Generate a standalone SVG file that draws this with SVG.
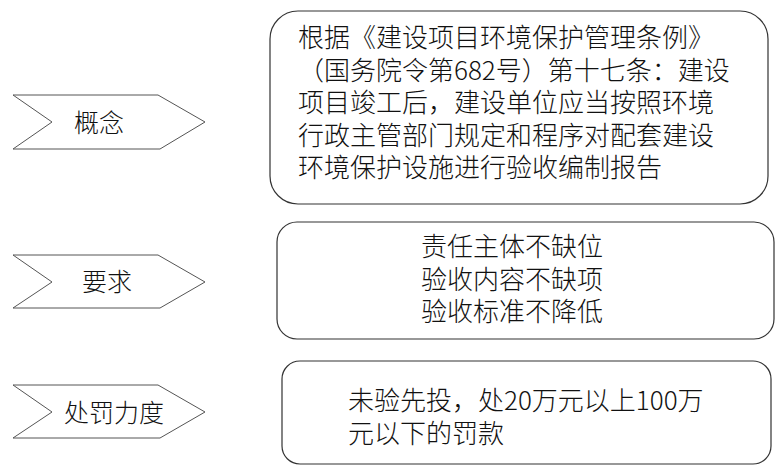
<svg xmlns="http://www.w3.org/2000/svg" width="781" height="476" viewBox="0 0 781 476">
<style>
.bg{fill:#ffffff}
.chev{fill:#ffffff;stroke:#555555;stroke-width:1}
.box{fill:#ffffff;stroke:#333333;stroke-width:1.2}
text{font-family:"Noto Sans CJK SC","Noto Sans",sans-serif;fill:#111111;font-weight:300}
.lbl{font-size:25px;text-anchor:middle}
.body{font-size:26px}
.mid{text-anchor:middle}
</style>
<rect class="bg" x="0" y="0" width="781" height="476"/>
<g id="connectors"></g>
<g id="node-concept-tag">
<polygon class="chev" points="13,95 158,95 205,122 160,149 13,149 52,122"/>
<text class="lbl" x="99" y="132">概念</text>
</g>
<g id="node-concept-box">
<rect class="box" x="270" y="11" width="498" height="193" rx="28" ry="28"/>
<text class="body" x="298" y="47">根据《建设项目环境保护管理条例》</text>
<text class="body" x="298" y="80">（国务院令第682号）第十七条：建设</text>
<text class="body" x="298" y="112">项目竣工后，建设单位应当按照环境</text>
<text class="body" x="298" y="145">行政主管部门规定和程序对配套建设</text>
<text class="body" x="298" y="177">环境保护设施进行验收编制报告</text>
</g>
<g id="node-require-tag">
<polygon class="chev" points="13,255 158,255 205,282 160,308 13,308 52,282"/>
<text class="lbl" x="107" y="291">要求</text>
</g>
<g id="node-require-box">
<rect class="box" x="277" y="222" width="497" height="117" rx="20" ry="20"/>
<text class="body mid" x="512" y="256">责任主体不缺位</text>
<text class="body mid" x="512" y="289">验收内容不缺项</text>
<text class="body mid" x="512" y="321">验收标准不降低</text>
</g>
<g id="node-penalty-tag">
<polygon class="chev" points="13,385 158,385 205,412 160,438 13,438 52,412"/>
<text class="lbl" x="114" y="422">处罚力度</text>
</g>
<g id="node-penalty-box">
<rect class="box" x="282" y="361" width="489" height="103" rx="18" ry="18"/>
<text class="body" x="348" y="410">未验先投，处20万元以上100万</text>
<text class="body" x="348" y="443">元以下的罚款</text>
</g>
</svg>
